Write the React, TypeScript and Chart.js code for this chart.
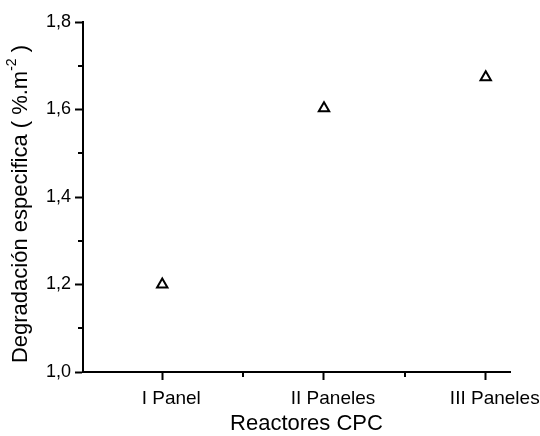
import React, { useEffect, useRef } from "react";
import { Chart, registerables } from "chart.js";

Chart.register(...registerables);

const categories = ["I Panel", "II Paneles", "III Paneles"];
const values = [1.2, 1.603, 1.674];
const yMajorTicks = [1.0, 1.2, 1.4, 1.6, 1.8];
const yMinorTicks = [1.1, 1.3, 1.5, 1.7];
const xMinorTicks = [1.5, 2.5];
const xTitle = "Reactores CPC";
const yTitleMain = "Degradación especifica ( %.m";
const yTitleSup = "-2";
const yTitleEnd = " )";

const FONT = "'Liberation Sans', Arial, sans-serif";

const customPlugin = {
  id: "customDraw",
  afterDraw(chart: any) {
    const ctx = chart.ctx;
    const ca = chart.chartArea;
    const xs = chart.scales.x;
    const ys = chart.scales.y;
    ctx.save();
    ctx.strokeStyle = "#000";
    ctx.lineWidth = 2;
    // minor ticks
    yMinorTicks.forEach((v) => {
      const py = Math.round(ys.getPixelForValue(v));
      ctx.beginPath();
      ctx.moveTo(ca.left - 5, py);
      ctx.lineTo(ca.left, py);
      ctx.stroke();
    });
    xMinorTicks.forEach((v) => {
      const px = Math.round(xs.getPixelForValue(v));
      ctx.beginPath();
      ctx.moveTo(px, ca.bottom);
      ctx.lineTo(px, ca.bottom + 5);
      ctx.stroke();
    });
    // x title
    ctx.fillStyle = "#000";
    ctx.font = `22px ${FONT}`;
    ctx.textAlign = "center";
    ctx.textBaseline = "middle";
    ctx.fillText(xTitle, (ca.left + ca.right) / 2 + 10, 424);
    // y title with superscript
    ctx.translate(21, (ca.top + ca.bottom) / 2 + 7);
    ctx.rotate(-Math.PI / 2);
    ctx.font = `22px ${FONT}`;
    const w1 = ctx.measureText(yTitleMain).width;
    ctx.font = `14px ${FONT}`;
    const w2 = ctx.measureText(yTitleSup).width;
    ctx.font = `22px ${FONT}`;
    const w3 = ctx.measureText(yTitleEnd).width;
    const total = w1 + w2 + w3;
    let x0 = -total / 2;
    ctx.textAlign = "left";
    ctx.textBaseline = "middle";
    ctx.fillText(yTitleMain, x0, 0);
    x0 += w1;
    ctx.font = `14px ${FONT}`;
    ctx.fillText(yTitleSup, x0, -9);
    x0 += w2;
    ctx.font = `22px ${FONT}`;
    ctx.fillText(yTitleEnd, x0, 0);
    ctx.restore();
  },
};

export default function App() {
  const ref = useRef<HTMLCanvasElement>(null);
  useEffect(() => {
    if (!ref.current) return;
    const chart = new Chart(ref.current, {
      type: "scatter",
      data: {
        datasets: [
          {
            data: values.map((v, i) => ({ x: i + 1, y: v })),
            pointStyle: "triangle",
            radius: 6,
            borderWidth: 2,
            borderColor: "#000",
            backgroundColor: "rgba(255,255,255,0)",
          },
        ],
      },
      options: {
        animation: false,
        responsive: true,
        maintainAspectRatio: false,
        layout: { padding: { left: 0, top: 22, right: 30, bottom: 0 } },
        plugins: { legend: { display: false }, tooltip: { enabled: false } },
        scales: {
          x: {
            type: "linear",
            min: 0.51,
            max: 3.15,
            afterBuildTicks: (s: any) => {
              s.ticks = categories.map((_, i) => ({ value: i + 1 }));
            },
            afterFit: (s: any) => {
              s.height = 64;
            },
            ticks: {
              callback: (v: any) => categories[Math.round(v) - 1] ?? "",
              color: "#000",
              font: { family: FONT, size: 19 },
              padding: 7,
              labelOffset: 9,
              maxRotation: 0,
            },
            grid: {
              drawOnChartArea: false,
              drawTicks: true,
              tickLength: 8,
              tickWidth: 2,
              tickColor: "#000",
            },
            border: { display: true, color: "#000", width: 2 },
          },
          y: {
            type: "linear",
            min: 1.0,
            max: 1.8,
            afterBuildTicks: (s: any) => {
              s.ticks = yMajorTicks.map((v) => ({ value: v }));
            },
            afterFit: (s: any) => {
              s.width = 83;
            },
            ticks: {
              callback: (v: any) => Number(v).toFixed(1).replace(".", ","),
              color: "#000",
              font: { family: FONT, size: 18 },
              padding: 4,
            },
            grid: {
              drawOnChartArea: false,
              drawTicks: true,
              tickLength: 8,
              tickWidth: 2,
              tickColor: "#000",
            },
            border: { display: true, color: "#000", width: 2 },
          },
        },
      },
      plugins: [customPlugin],
    });
    return () => chart.destroy();
  }, []);
  return (
    <div
      style={{
        position: "fixed",
        left: 0,
        top: 0,
        width: 540,
        height: 436,
        background: "#fff",
      }}
    >
      <canvas ref={ref} />
    </div>
  );
}
